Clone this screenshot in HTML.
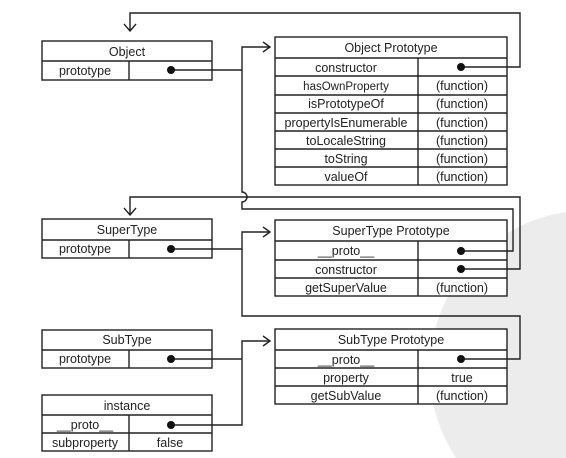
<!DOCTYPE html>
<html><head><style>
html,body{margin:0;padding:0;background:#fff;width:566px;height:458px;overflow:hidden;}
svg{display:block;}
svg text{font-family:"Liberation Sans",sans-serif;font-size:12.5px;fill:#222;text-anchor:middle;}
</style></head><body>
<svg width="566" height="458" xmlns="http://www.w3.org/2000/svg">
<path d="M566,212 A160,160 0 0 0 456,458 L566,458 Z" fill="#ececec"/>
<rect x="275" y="220" width="232" height="76" fill="#fff"/>
<rect x="275" y="329" width="232" height="75" fill="#fff"/>
<g stroke="#222" stroke-width="1.4" fill="none">
<rect x="42" y="41" width="170" height="39"/><line x1="42" y1="61" x2="212" y2="61"/><line x1="129" y1="61" x2="129" y2="80"/>
<rect x="275" y="37" width="232" height="148"/>
<line x1="275" y1="58" x2="507" y2="58"/><line x1="275" y1="76" x2="507" y2="76"/><line x1="275" y1="95" x2="507" y2="95"/>
<line x1="275" y1="113" x2="507" y2="113"/><line x1="275" y1="131" x2="507" y2="131"/><line x1="275" y1="149" x2="507" y2="149"/>
<line x1="275" y1="167" x2="507" y2="167"/><line x1="418" y1="58" x2="418" y2="185"/>
<rect x="42" y="219" width="170" height="39"/><line x1="42" y1="240" x2="212" y2="240"/><line x1="129" y1="240" x2="129" y2="258"/>
<rect x="275" y="220" width="232" height="76"/>
<line x1="275" y1="241" x2="507" y2="241"/><line x1="275" y1="260" x2="507" y2="260"/><line x1="275" y1="278" x2="507" y2="278"/><line x1="418" y1="241" x2="418" y2="296"/>
<rect x="42" y="330" width="170" height="38"/><line x1="42" y1="350" x2="212" y2="350"/><line x1="129" y1="350" x2="129" y2="368"/>
<rect x="275" y="329" width="232" height="75"/>
<line x1="275" y1="350" x2="507" y2="350"/><line x1="275" y1="368" x2="507" y2="368"/><line x1="275" y1="386" x2="507" y2="386"/><line x1="418" y1="350" x2="418" y2="404"/>
<rect x="42" y="395" width="170" height="56"/><line x1="42" y1="415" x2="212" y2="415"/><line x1="42" y1="433" x2="212" y2="433"/><line x1="129" y1="415" x2="129" y2="451"/>

<polyline points="461,67 520,67 520,13 130,13 130,30"/>
<polyline points="124,24 130,31 136,24"/>
<polyline points="171,70 242,70 242,47 270,47"/>
<polyline points="263,42 270,47 263,52"/>
<path d="M242,70 L242,192 A5,5 0 0 1 242,202 L242,209 L513,209 L513,251 L461,251"/>
<polyline points="461,269 520,269 520,197 130,197 130,214"/>
<polyline points="124,208 130,215 136,208"/>
<polyline points="171,249 242,249 242,232 270,232"/>
<polyline points="263,227 270,232 263,237"/>
<polyline points="242,249 242,316 520,316 520,359 461,359"/>
<polyline points="171,359 242,359"/>
<polyline points="171,425 242,425 242,341 270,341"/>
<polyline points="263,336 270,341 263,346"/>
</g>
<g fill="#111">
<circle cx="171" cy="70" r="4"/><circle cx="461" cy="67" r="4"/>
<circle cx="171" cy="249" r="4"/><circle cx="461" cy="251" r="4"/><circle cx="461" cy="269" r="4"/>
<circle cx="171" cy="359" r="4"/><circle cx="461" cy="359" r="4"/><circle cx="171" cy="425" r="4"/>
</g>
<text x="127" y="56">Object</text><text x="85" y="75">prototype</text>
<text x="391" y="52">Object Prototype</text>
<text x="346" y="72">constructor</text>
<text x="346" y="90" style="font-size:11.5px">hasOwnProperty</text><text x="462" y="90">(function)</text>
<text x="346" y="108">isPrototypeOf</text><text x="462" y="108">(function)</text>
<text x="346" y="127">propertyIsEnumerable</text><text x="462" y="127">(function)</text>
<text x="346" y="145">toLocaleString</text><text x="462" y="145">(function)</text>
<text x="346" y="163">toString</text><text x="462" y="163">(function)</text>
<text x="346" y="181">valueOf</text><text x="462" y="181">(function)</text>

<text x="127" y="234">SuperType</text><text x="85" y="253">prototype</text>
<text x="391" y="235">SuperType Prototype</text>
<text x="346" y="255">__proto__</text>
<text x="346" y="274">constructor</text>
<text x="346" y="292">getSuperValue</text><text x="462" y="292">(function)</text>

<text x="127" y="344">SubType</text><text x="85" y="363">prototype</text>
<text x="391" y="344">SubType Prototype</text>
<text x="346" y="364">__proto__</text>
<text x="346" y="382">property</text><text x="462" y="382">true</text>
<text x="346" y="400">getSubValue</text><text x="462" y="400">(function)</text>

<text x="127" y="410">instance</text>
<text x="85" y="429">__proto__</text>
<text x="85" y="447">subproperty</text><text x="170" y="447">false</text>
</svg>
</body></html>
